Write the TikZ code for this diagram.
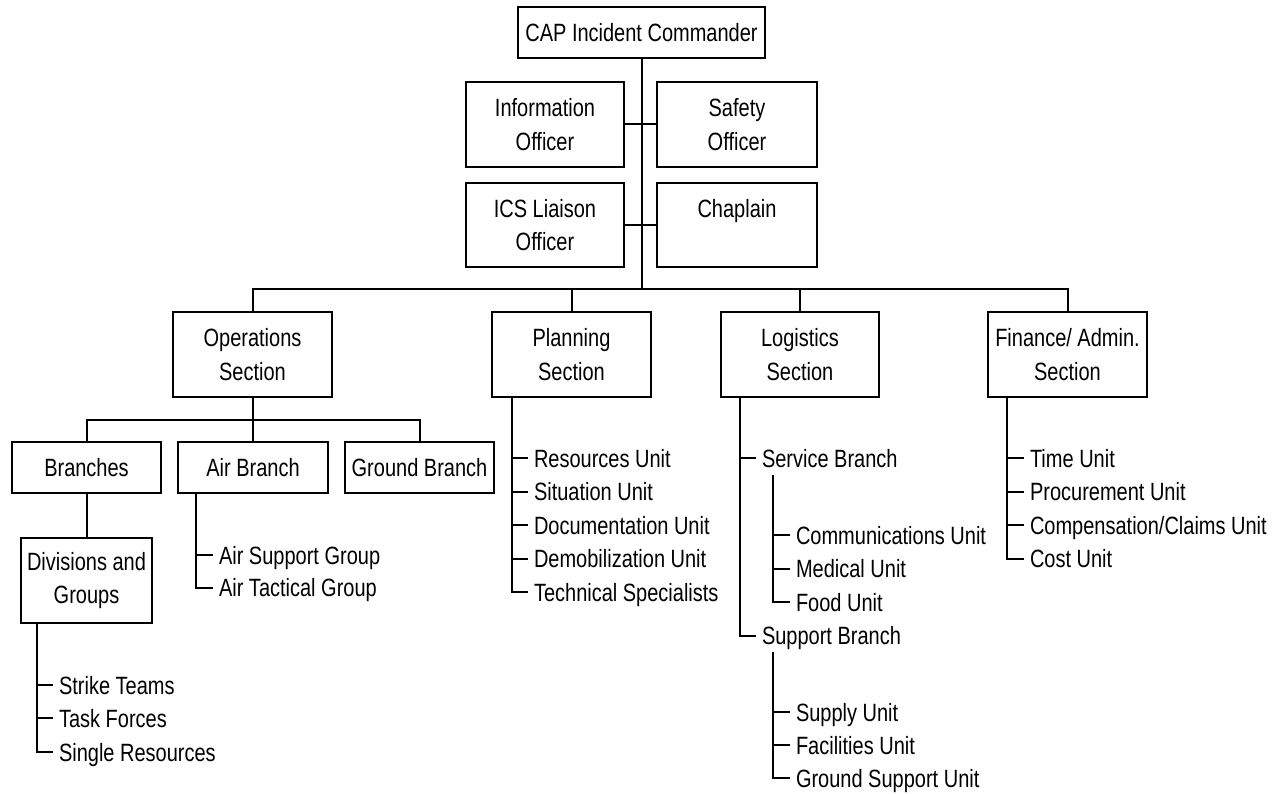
\documentclass[tikz,border=0pt]{standalone}
\usepackage{fontspec}
\setmainfont[FakeStretch=0.8]{Liberation Sans}

\begin{document}
\begin{tikzpicture}[x=1pt, y=-1pt, line width=2pt,
    font=\fontsize{25}{33.5}\selectfont,
    box/.style={draw, align=center, inner sep=0pt},
    unit/.style={anchor=west, inner sep=0pt, inner xsep=5pt, text height=18pt, text depth=0pt}]

    % Page size
    \useasboundingbox (0,0) rectangle (1280,794);

    % Commander and staff
    \node[box, minimum width=247pt, minimum height=51pt] (ic) at (641.5,32.5) {CAP Incident Commander};
    \node[box, minimum width=158pt, minimum height=85pt] (info) at (545,124.5) {Information\\Officer};
    \node[box, minimum width=160pt, minimum height=85pt] (safety) at (737,124.5) {Safety\\Officer};
    \node[box, minimum width=158pt, minimum height=84pt] (liaison) at (545,225) {ICS Liaison\\Officer};
    \node[box, minimum width=160pt, minimum height=84pt] (chaplain) at (737,225) {Chaplain\\\mbox{}};

    % Sections
    \node[box, minimum width=159pt, minimum height=85pt] (ops) at (252.5,354.5) {Operations\\Section};
    \node[box, minimum width=159pt, minimum height=85pt] (plan) at (571.5,354.5) {Planning\\Section};
    \node[box, minimum width=158pt, minimum height=85pt] (log) at (800,354.5) {Logistics\\Section};
    \node[box, minimum width=159pt, minimum height=85pt] (fin) at (1067.5,354.5) {Finance/ Admin.\\Section};

    % Operations branches
    \node[box, minimum width=149pt, minimum height=51pt] (branches) at (86.5,467.5) {Branches};
    \node[box, minimum width=150pt, minimum height=51pt] (air) at (253,467.5) {Air Branch};
    \node[box, minimum width=149pt, minimum height=51pt] (ground) at (419.5,467.5) {Ground Branch};
    \node[box, minimum width=131pt, minimum height=85pt] (div) at (86.5,580.5) {Divisions and\\Groups};

    % Unit lists
    \node[unit] (asg) at (213,555) {Air Support Group};
    \node[unit] (atg) at (213,587.5) {Air Tactical Group};

    \node[unit] (strike) at (53,685) {Strike Teams};
    \node[unit] (task) at (53,718) {Task Forces};
    \node[unit] (single) at (53,752) {Single Resources};

    \node[unit] (res) at (528,458) {Resources Unit};
    \node[unit] (sit) at (528,491.5) {Situation Unit};
    \node[unit] (doc) at (528,525) {Documentation Unit};
    \node[unit] (demob) at (528,558.5) {Demobilization Unit};
    \node[unit] (tech) at (528,592) {Technical Specialists};

    \node[unit] (service) at (756,458) {Service Branch};
    \node[unit] (comm) at (790,535) {Communications Unit};
    \node[unit] (medical) at (790,568.5) {Medical Unit};
    \node[unit] (food) at (790,602) {Food Unit};
    \node[unit] (support) at (756,635.5) {Support Branch};
    \node[unit] (supply) at (790,712) {Supply Unit};
    \node[unit] (facil) at (790,745) {Facilities Unit};
    \node[unit] (gsu) at (790,778) {Ground Support Unit};

    \node[unit] (time) at (1024,458) {Time Unit};
    \node[unit] (proc) at (1024,491.5) {Procurement Unit};
    \node[unit] (comp) at (1024,525) {Compensation/Claims Unit};
    \node[unit] (cost) at (1024,558.5) {Cost Unit};

    % Junction points
    \coordinate (bus) at (641.5,289);
    \coordinate (opsbus) at (252.5,420);
    \coordinate (airv) at (196,493);
    \coordinate (divv) at (37,623);
    \coordinate (planv) at (512,397);
    \coordinate (logv) at (740,397);
    \coordinate (servv) at (773,475);
    \coordinate (suppv) at (773,652);
    \coordinate (finv) at (1007,397);

    % Command lines
    \draw (ic.south) -- (bus);
    \draw (info.east) -- (safety.west);
    \draw (liaison.east) -- (chaplain.west);
    \draw (ops.north) |- (bus) -| (fin.north);
    \draw (plan.north) -- (plan.north |- bus);
    \draw (log.north) -- (log.north |- bus);

    \draw (ops.south) -- (opsbus);
    \draw (branches.north) |- (opsbus) -| (ground.north);
    \draw (air.north) -- (air.north |- opsbus);
    \draw (branches.south) -- (div.north);

    % List lines
    \draw (airv) |- (atg.west);
    \draw (airv |- asg.west) -- (asg.west);

    \draw (divv) |- (single.west);
    \foreach \n in {strike,task} \draw (divv |- \n.west) -- (\n.west);

    \draw (planv) |- (tech.west);
    \foreach \n in {res,sit,doc,demob} \draw (planv |- \n.west) -- (\n.west);

    \draw (logv) |- (support.west);
    \draw (logv |- service.west) -- (service.west);
    \draw (servv) |- (food.west);
    \foreach \n in {comm,medical} \draw (servv |- \n.west) -- (\n.west);
    \draw (suppv) |- (gsu.west);
    \foreach \n in {supply,facil} \draw (suppv |- \n.west) -- (\n.west);

    \draw (finv) |- (cost.west);
    \foreach \n in {time,proc,comp} \draw (finv |- \n.west) -- (\n.west);

\end{tikzpicture}
\end{document}
